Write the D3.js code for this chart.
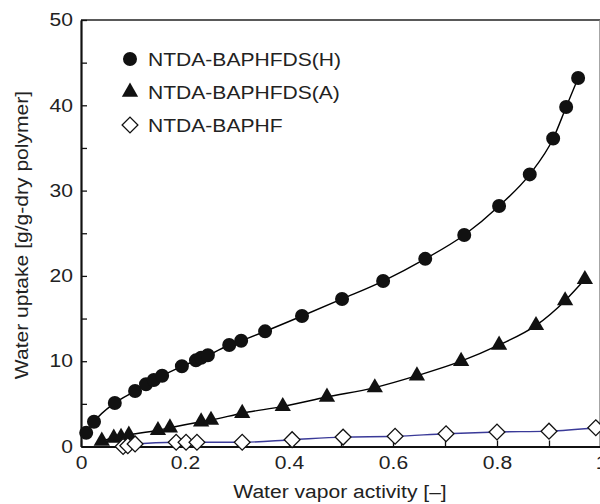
<!DOCTYPE html>
<html>
<head>
<meta charset="utf-8">
<script src="https://cdn.jsdelivr.net/npm/d3@7"></script>
<style>
    body { margin: 0; background: #fff; }
    svg { display: block; font-family: "Liberation Sans", Arial, sans-serif; }
</style>
</head>
<body>
<div id="chart"></div>
<script>
// NTDA-BAPHFDS(H)
var hX = [0.010, 0.025, 0.065, 0.104, 0.125, 0.140, 0.156, 0.194, 0.221, 0.231, 0.244, 0.285, 0.308, 0.354, 0.425, 0.502, 0.581, 0.662, 0.737, 0.804, 0.863, 0.908, 0.933, 0.956];
var hY = [1.6, 2.9, 5.1, 6.5, 7.3, 7.8, 8.3, 9.4, 10.1, 10.4, 10.7, 11.9, 12.4, 13.5, 15.3, 17.3, 19.4, 22.0, 24.8, 28.2, 31.9, 36.1, 39.8, 43.2];

// NTDA-BAPHFDS(A)
var aX = [0.040, 0.063, 0.077, 0.092, 0.148, 0.171, 0.231, 0.250, 0.310, 0.388, 0.473, 0.565, 0.646, 0.731, 0.804, 0.875, 0.931, 0.969];
var aY = [0.65, 1.0, 1.1, 1.35, 1.9, 2.2, 2.9, 3.1, 3.9, 4.7, 5.8, 6.9, 8.3, 10.0, 11.9, 14.2, 17.1, 19.6];

// NTDA-BAPHF
var fX = [0.081, 0.090, 0.104, 0.183, 0.202, 0.223, 0.310, 0.406, 0.504, 0.604, 0.702, 0.800, 0.900, 0.990];
var fY = [0.0, 0.1, 0.3, 0.5, 0.5, 0.5, 0.5, 0.8, 1.1, 1.2, 1.5, 1.7, 1.8, 2.2];

var seriesNames = ["NTDA-BAPHFDS(H)", "NTDA-BAPHFDS(A)", "NTDA-BAPHF"];
var xTickLabels = ["0", "0.2", "0.4", "0.6", "0.8", "1"];
var yTickLabels = ["0", "10", "20", "30", "40", "50"];

var width = 600, height = 504;
var svg = d3.select("#chart").append("svg").attr("width", width).attr("height", height);

var x = d3.scaleLinear().domain([0, 1]).range([81, 601]);
var y = d3.scaleLinear().domain([0, 50]).range([446.5, 20]);

function zip(xs, ys) {
    return xs.map(function (v, i) { return { x: v, y: ys[i] }; });
}

var series = [
    { name: seriesNames[0], data: zip(hX, hY), shape: "circle", line: "#000" },
    { name: seriesNames[1], data: zip(aX, aY), shape: "triangle", line: "#000" },
    { name: seriesNames[2], data: zip(fX, fY), shape: "diamond", line: "#3a3a98" }
];

var symbols = {
    circle: d3.symbol().type(d3.symbolCircle).size(154),
    triangle: d3.symbol().type(d3.symbolTriangle).size(115),
    diamond: d3.symbol().type(d3.symbolSquare).size(125)
};

function drawMarker(sel, shape) {
    sel.append("path")
        .attr("d", symbols[shape]())
        .attr("transform", function (d) {
            var t = "translate(" + d.cx + "," + d.cy + ")";
            return shape === "diamond" ? t + " rotate(45)" : t;
        })
        .attr("fill", shape === "diamond" ? "#fff" : "#111")
        .attr("stroke", shape === "diamond" ? "#111" : "none")
        .attr("stroke-width", 1.3);
}

// frame
svg.append("line").attr("x1", 81).attr("x2", 600).attr("y1", 20).attr("y2", 20).attr("stroke", "#222").attr("stroke-width", 1.5);
svg.append("line").attr("x1", 600).attr("x2", 600).attr("y1", 20).attr("y2", 446.5).attr("stroke", "#888").attr("stroke-width", 1.5);

// axes with inward ticks
var xAxis = d3.axisBottom(x).tickValues(d3.range(0, 1.0001, 0.1)).tickSize(-6).tickSizeOuter(0)
    .tickFormat(function (d, i) { return i % 2 === 0 ? xTickLabels[i / 2] : ""; });
var yAxis = d3.axisLeft(y).tickValues(d3.range(0, 50.001, 5)).tickSize(-6).tickSizeOuter(0)
    .tickFormat(function (d, i) { return i % 2 === 0 ? yTickLabels[i / 2] : ""; });

var gx = svg.append("g").attr("transform", "translate(0,446.5)").call(xAxis);
var gy = svg.append("g").attr("transform", "translate(81,0)").call(yAxis);

[gx, gy].forEach(function (g) {
    g.select(".domain").attr("stroke", "#111").attr("stroke-width", 2.2);
    g.selectAll(".tick line").attr("stroke", "#111").attr("stroke-width", 1.3);
    g.selectAll(".tick text").attr("fill", "#222").style("font-size", "18px");
});
gx.selectAll(".tick text").attr("y", 10);
gy.selectAll(".tick text").attr("x", -8);

// lines
var line = d3.line().x(function (d) { return x(d.x); }).y(function (d) { return y(d.y); }).curve(d3.curveMonotoneX);

series.forEach(function (s) {
    svg.append("path").datum(s.data)
        .attr("d", line)
        .attr("fill", "none")
        .attr("stroke", s.line)
        .attr("stroke-width", 1.4);
});

// markers
series.forEach(function (s) {
    var pts = s.data.map(function (d) { return { cx: x(d.x), cy: y(d.y) }; });
    var g = svg.append("g").selectAll("g").data(pts).enter().append("g");
    drawMarker(g, s.shape);
});

// legend
var legend = svg.append("g").selectAll("g").data(series).enter().append("g")
    .attr("transform", function (d, i) { return "translate(0," + (59 + i * 33) + ")"; });
legend.each(function (s) {
    var g = d3.select(this);
    var m = g.selectAll("g").data([{ cx: 130, cy: 0 }]).enter().append("g");
    drawMarker(m, s.shape);
    g.append("text").attr("x", 148).attr("y", 7).attr("fill", "#222").style("font-size", "18px").text(s.name);
});

// axis titles
svg.append("text").attr("x", 340).attr("y", 498).attr("text-anchor", "middle").attr("fill", "#222")
    .style("font-size", "18px").text("Water vapor activity [\u2013]");
svg.append("text").attr("transform", "translate(28,235) rotate(-90)").attr("text-anchor", "middle").attr("fill", "#222")
    .style("font-size", "18px").text("Water uptake [g/g-dry polymer]");

// the original type is a bit wider than Liberation Sans, stretch it
svg.selectAll("text").each(function () {
    var w = this.getComputedTextLength();
    if (w > 0) d3.select(this).attr("textLength", w * 1.17).attr("lengthAdjust", "spacingAndGlyphs");
});
</script>
</body>
</html>
